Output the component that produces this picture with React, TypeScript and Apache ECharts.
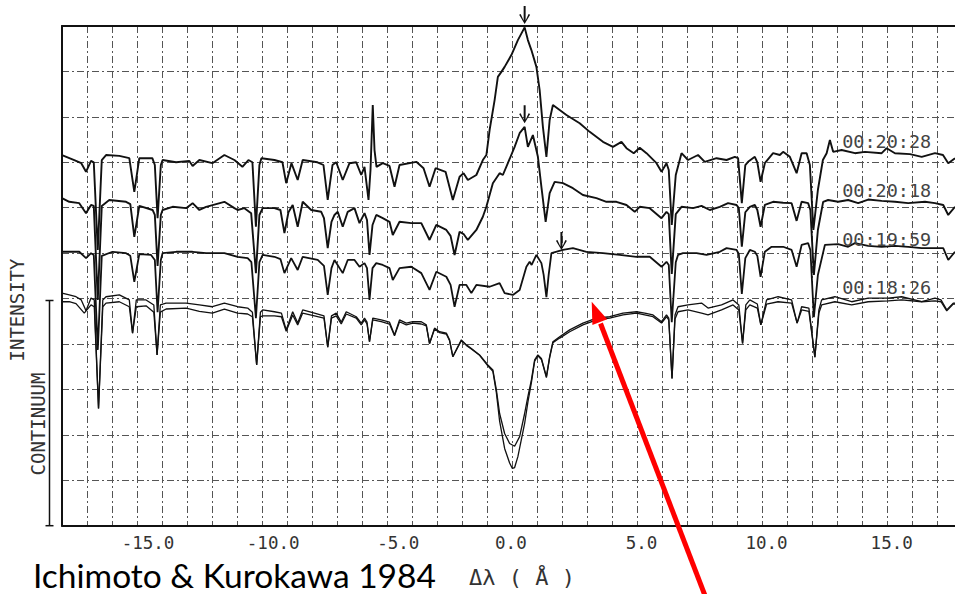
import React, { useEffect, useRef } from "react";
import * as echarts from "echarts";

// Δλ (Å) / intensity (grid units, continuum of the quiet spectrum ≈ 5)
const tickLabels = ["-15.0", "-10.0", "-5.0", "0.0", "5.0", "10.0", "15.0"];
const timeLabels = ["00:20:28", "00:20:18", "00:19:59", "00:18:26"];
const timeLabelPos: [number, number][] = [[14.96, 8.45], [14.96, 7.37], [14.96, 6.31], [14.96, 5.24]];
const arrowPos: [number, number][] = [[0.49, 11.0], [0.49, 8.86], [1.96, 6.07]];

const spec2028: [number, number][] = [
  [-18.0, 8.16], [-17.51, 8.05], [-17.23, 7.98], [-17.04, 7.79], [-16.84, 8.03], [-16.73, 8.0], [-16.57, 6.07], [-16.41, 8.05],
  [-16.24, 8.16], [-15.71, 8.14], [-15.31, 8.09], [-15.11, 7.35], [-14.91, 8.09], [-14.39, 8.09], [-14.29, 7.94], [-14.18, 6.77],
  [-14.05, 7.94], [-13.98, 8.05], [-13.44, 8.0], [-12.91, 8.03], [-12.78, 7.92], [-12.51, 8.05], [-11.99, 7.98], [-11.51, 8.16],
  [-11.11, 8.05], [-10.79, 7.9], [-10.55, 8.05], [-10.39, 8.0], [-10.25, 6.58], [-10.11, 7.94], [-10.03, 8.09], [-9.51, 8.05],
  [-9.19, 8.0], [-9.04, 7.54], [-8.83, 7.98], [-8.58, 7.61], [-8.38, 8.05], [-7.79, 8.0], [-7.55, 7.94], [-7.38, 7.17],
  [-7.19, 7.94], [-7.04, 8.0], [-6.78, 7.61], [-6.51, 7.98], [-6.24, 8.0], [-6.04, 7.72], [-5.91, 7.9], [-5.75, 7.17],
  [-5.67, 7.83], [-5.58, 9.26], [-5.51, 8.27], [-5.43, 7.9], [-5.18, 7.98], [-4.91, 7.92], [-4.71, 7.46], [-4.51, 7.94],
  [-3.84, 8.01], [-3.55, 7.87], [-3.31, 7.46], [-3.07, 7.87], [-2.67, 7.79], [-2.38, 7.17], [-2.11, 7.68], [-1.95, 7.76],
  [-1.78, 7.61], [-1.44, 7.72], [-1.18, 8.05], [-1.04, 8.16], [-0.91, 8.71], [-0.71, 9.37], [-0.58, 9.88], [-0.44, 9.99],
  [-0.31, 10.1], [-0.04, 10.36], [0.22, 10.69], [0.49, 10.97], [0.62, 10.69], [0.76, 10.47], [0.96, 10.1], [1.09, 9.59],
  [1.22, 8.78], [1.36, 8.12], [1.49, 8.93], [1.62, 9.26], [1.89, 9.15], [2.16, 9.04], [2.69, 8.86], [3.09, 8.67],
  [3.62, 8.45], [4.02, 8.34], [4.36, 8.45], [4.56, 8.31], [4.85, 8.2], [5.09, 8.32], [5.36, 8.2], [5.76, 7.98],
  [5.96, 7.79], [6.16, 7.98], [6.25, 7.83], [6.37, 6.62], [6.53, 7.72], [6.76, 8.2], [7.02, 8.05], [7.42, 8.16],
  [7.69, 8.01], [8.16, 8.09], [8.56, 8.05], [8.89, 8.12], [9.02, 8.09], [9.17, 7.1], [9.31, 7.94], [9.42, 8.01],
  [9.69, 8.12], [9.79, 8.0], [9.92, 7.57], [10.09, 7.98], [10.42, 8.2], [10.69, 8.16], [10.82, 8.23], [11.09, 8.12],
  [11.36, 7.76], [11.56, 8.2], [11.76, 8.2], [11.89, 7.94], [12.03, 6.51], [12.21, 7.39], [12.41, 8.05], [12.56, 8.2],
  [12.69, 8.49], [12.82, 8.23], [13.16, 8.27], [13.69, 8.2], [14.09, 8.23], [14.76, 8.2], [14.96, 8.31], [15.29, 8.2],
  [15.89, 8.18], [16.36, 8.12], [16.89, 8.2], [17.21, 8.16], [17.42, 7.98], [17.69, 8.09],
];

const spec2018: [number, number][] = [
  [-18.0, 7.21], [-17.71, 7.13], [-17.31, 7.1], [-17.04, 6.88], [-16.84, 7.06], [-16.73, 7.04], [-16.57, 4.97], [-16.41, 7.04],
  [-16.11, 7.17], [-15.44, 7.13], [-15.27, 7.08], [-15.11, 6.36], [-14.91, 7.04], [-14.38, 6.95], [-14.29, 6.84], [-14.18, 5.72],
  [-14.05, 6.84], [-13.98, 6.95], [-13.58, 7.02], [-13.04, 6.99], [-12.78, 7.1], [-12.51, 6.95], [-12.24, 7.02], [-11.51, 7.13],
  [-11.11, 6.99], [-10.98, 6.95], [-10.71, 6.99], [-10.44, 6.88], [-10.25, 5.56], [-10.11, 6.84], [-9.98, 6.99], [-9.51, 6.99],
  [-9.27, 6.95], [-9.11, 6.44], [-8.95, 6.9], [-8.78, 7.06], [-8.58, 6.58], [-8.38, 7.13], [-8.04, 6.95], [-7.64, 6.91],
  [-7.53, 6.77], [-7.38, 6.11], [-7.23, 6.69], [-7.11, 6.84], [-6.98, 6.91], [-6.78, 6.58], [-6.58, 6.91], [-6.31, 6.99],
  [-6.11, 6.66], [-5.91, 6.88], [-5.81, 6.73], [-5.71, 5.96], [-5.59, 6.62], [-5.44, 6.84], [-5.18, 6.77], [-4.91, 6.69],
  [-4.78, 6.4], [-4.51, 6.69], [-4.04, 6.66], [-3.64, 6.66], [-3.31, 6.29], [-3.04, 6.62], [-2.64, 6.51], [-2.47, 6.38],
  [-2.31, 5.96], [-2.11, 6.47], [-1.95, 6.42], [-1.78, 6.29], [-1.44, 6.51], [-1.18, 6.8], [-1.04, 7.02], [-0.78, 7.54],
  [-0.51, 7.76], [-0.38, 7.72], [-0.18, 7.98], [0.09, 8.34], [0.29, 8.64], [0.49, 8.78], [0.62, 8.34], [0.82, 8.6],
  [1.02, 8.12], [1.16, 7.46], [1.33, 6.69], [1.49, 7.32], [1.69, 7.57], [2.02, 7.54], [2.42, 7.43], [2.82, 7.28],
  [3.36, 7.21], [3.76, 7.13], [4.16, 7.13], [4.56, 7.06], [4.89, 6.91], [5.09, 7.02], [5.49, 6.99], [5.96, 6.77],
  [6.16, 6.91], [6.25, 6.86], [6.37, 5.54], [6.53, 6.86], [6.76, 7.02], [7.22, 6.99], [7.56, 7.04], [7.89, 6.95],
  [8.29, 7.02], [8.62, 7.1], [8.96, 7.06], [9.05, 6.99], [9.17, 6.14], [9.31, 6.9], [9.49, 7.02], [9.69, 7.06],
  [9.79, 6.95], [9.92, 6.58], [10.09, 7.06], [10.42, 7.13], [10.82, 7.11], [11.16, 7.1], [11.36, 6.71], [11.56, 7.13],
  [11.82, 7.1], [11.91, 6.95], [12.05, 5.52], [12.21, 6.51], [12.42, 7.13], [12.62, 7.17], [13.02, 7.13], [13.42, 7.17],
  [13.82, 7.1], [14.22, 7.18], [14.76, 7.15], [15.29, 7.13], [15.82, 7.1], [16.49, 7.13], [16.89, 7.1], [17.22, 7.06],
  [17.42, 6.84], [17.69, 7.02],
];

const spec1959: [number, number][] = [
  [-18.0, 6.03], [-17.31, 6.03], [-17.04, 5.89], [-16.84, 6.0], [-16.73, 5.96], [-16.57, 3.87], [-16.41, 5.94], [-15.98, 6.03],
  [-15.44, 6.0], [-15.27, 5.94], [-15.11, 5.37], [-14.91, 5.98], [-14.44, 5.96], [-14.29, 5.85], [-14.18, 4.7], [-14.05, 5.85],
  [-13.98, 6.0], [-13.44, 6.03], [-12.78, 6.03], [-12.24, 6.0], [-11.51, 6.0], [-10.98, 5.92], [-10.58, 5.89], [-10.43, 5.8],
  [-10.25, 4.57], [-10.11, 5.8], [-9.98, 5.96], [-9.51, 5.92], [-9.27, 5.87], [-9.11, 5.56], [-8.84, 5.89], [-8.58, 5.63],
  [-8.38, 5.92], [-7.78, 5.85], [-7.53, 5.72], [-7.38, 5.08], [-7.23, 5.67], [-7.11, 5.85], [-6.78, 5.56], [-6.58, 5.85],
  [-6.31, 5.85], [-6.11, 5.7], [-5.91, 5.78], [-5.81, 5.67], [-5.71, 4.97], [-5.59, 5.67], [-5.44, 5.78], [-5.18, 5.74],
  [-4.91, 5.67], [-4.78, 5.41], [-4.51, 5.67], [-4.04, 5.7], [-3.64, 5.56], [-3.31, 5.19], [-3.04, 5.59], [-2.64, 5.48],
  [-2.47, 5.3], [-2.31, 4.82], [-2.11, 5.3], [-1.84, 5.3], [-1.64, 5.12], [-1.44, 5.3], [-0.91, 5.26], [-0.51, 5.34],
  [-0.31, 5.12], [0.02, 5.08], [0.29, 5.19], [0.56, 5.7], [0.69, 5.81], [0.77, 5.74], [0.96, 5.96], [1.16, 5.78],
  [1.25, 5.52], [1.36, 5.03], [1.45, 5.52], [1.56, 6.0], [2.02, 6.07], [2.42, 6.11], [2.96, 6.03], [3.62, 6.0],
  [4.29, 5.96], [4.96, 5.92], [5.49, 5.92], [5.96, 5.7], [6.16, 5.81], [6.25, 5.74], [6.37, 4.48], [6.53, 5.8],
  [6.62, 5.96], [6.82, 6.0], [7.36, 6.0], [7.76, 5.96], [8.29, 6.03], [8.56, 6.11], [8.96, 6.07], [9.05, 5.98],
  [9.17, 5.1], [9.31, 5.89], [9.49, 6.07], [9.69, 6.03], [9.79, 5.94], [9.92, 5.48], [10.09, 6.03], [10.36, 6.14],
  [10.82, 6.14], [11.16, 6.07], [11.36, 5.7], [11.56, 6.18], [11.82, 6.22], [11.91, 6.07], [12.05, 4.59], [12.21, 5.52],
  [12.49, 6.18], [13.02, 6.2], [13.42, 6.14], [13.69, 6.22], [14.22, 6.16], [14.76, 6.14], [15.29, 6.16], [15.82, 6.14],
  [16.36, 6.11], [16.89, 6.11], [17.22, 6.11], [17.42, 5.85], [17.69, 6.03],
];

const spec1826a: [number, number][] = [
  [-18.0, 5.12], [-17.71, 5.08], [-17.44, 5.04], [-17.23, 4.97], [-17.04, 4.73], [-16.84, 5.01], [-16.71, 4.97], [-16.54, 2.58],
  [-16.37, 4.97], [-16.24, 5.04], [-15.71, 5.08], [-15.31, 4.97], [-15.18, 4.24], [-15.03, 4.97], [-14.64, 4.97], [-14.33, 4.86],
  [-14.2, 3.76], [-14.07, 4.86], [-13.84, 4.9], [-13.04, 4.9], [-12.51, 4.86], [-11.99, 4.82], [-11.51, 4.9], [-10.98, 4.82],
  [-10.58, 4.79], [-10.39, 4.7], [-10.22, 3.54], [-10.07, 4.7], [-9.98, 4.75], [-9.51, 4.71], [-9.23, 4.68], [-9.04, 4.31],
  [-8.78, 4.71], [-8.58, 4.46], [-8.38, 4.75], [-7.91, 4.68], [-7.53, 4.62], [-7.38, 3.93], [-7.23, 4.62], [-7.04, 4.68],
  [-6.84, 4.48], [-6.64, 4.71], [-6.24, 4.6], [-6.04, 4.46], [-5.91, 4.57], [-5.81, 4.48], [-5.71, 4.05], [-5.58, 4.57],
  [-5.24, 4.53], [-4.91, 4.48], [-4.71, 4.2], [-4.51, 4.53], [-4.24, 4.46], [-3.98, 4.49], [-3.64, 4.49], [-3.44, 4.42],
  [-3.31, 4.01], [-3.11, 4.35], [-2.91, 4.27], [-2.64, 4.24], [-2.51, 4.09], [-2.38, 3.72], [-2.18, 3.94], [-2.04, 4.09],
  [-1.84, 3.98], [-1.64, 3.9], [-1.31, 3.76], [-0.98, 3.54], [-0.78, 3.43], [-0.64, 2.99], [-0.51, 2.47], [-0.31, 2.03],
  [-0.11, 1.81], [0.09, 1.75], [0.29, 1.96], [0.49, 2.47], [0.62, 2.84], [0.76, 3.21], [0.89, 3.65], [1.02, 3.76],
  [1.16, 3.68], [1.36, 3.28], [1.49, 3.72], [1.62, 4.05], [1.89, 4.16], [2.29, 4.31], [2.82, 4.46], [3.36, 4.57],
  [3.89, 4.6], [4.42, 4.68], [4.96, 4.71], [5.29, 4.68], [5.62, 4.64], [5.96, 4.49], [6.16, 4.64], [6.25, 4.57],
  [6.38, 3.24], [6.5, 4.64], [6.62, 4.82], [7.02, 4.86], [7.56, 4.9], [7.82, 4.79], [8.36, 4.86], [8.82, 4.97],
  [9.05, 4.86], [9.2, 4.01], [9.33, 4.86], [9.49, 4.97], [9.79, 4.88], [9.93, 4.42], [10.16, 4.97], [10.62, 5.04],
  [11.16, 4.97], [11.38, 4.46], [11.56, 4.82], [11.85, 4.79], [12.09, 3.71], [12.25, 4.75], [12.36, 4.97], [12.89, 5.04],
  [13.56, 4.93], [14.22, 5.01], [15.02, 5.01], [15.56, 5.04], [16.36, 4.93], [16.89, 5.01], [17.13, 4.97], [17.36, 4.75],
  [17.62, 4.9], [17.69, 4.9],
];

const spec1826b: [number, number][] = [
  [-18.0, 4.93], [-17.71, 4.93], [-17.44, 4.89], [-17.11, 4.68], [-16.84, 4.86], [-16.71, 4.82], [-16.54, 2.58], [-16.37, 4.82],
  [-16.24, 4.9], [-15.71, 4.93], [-15.31, 4.82], [-15.18, 4.24], [-15.03, 4.82], [-14.64, 4.84], [-14.33, 4.7], [-14.2, 3.76],
  [-14.07, 4.7], [-13.84, 4.77], [-13.04, 4.79], [-12.51, 4.72], [-11.99, 4.68], [-11.51, 4.77], [-10.98, 4.68], [-10.58, 4.66],
  [-10.39, 4.6], [-10.22, 3.54], [-10.07, 4.6], [-9.98, 4.62], [-9.51, 4.62], [-9.23, 4.6], [-9.04, 4.28], [-8.78, 4.64],
  [-8.58, 4.42], [-8.38, 4.68], [-7.91, 4.62], [-7.53, 4.57], [-7.38, 3.93], [-7.23, 4.57], [-7.04, 4.62], [-6.84, 4.44],
  [-6.64, 4.66], [-6.24, 4.57], [-6.04, 4.42], [-5.91, 4.53], [-5.81, 4.44], [-5.71, 4.05], [-5.58, 4.53], [-5.24, 4.49],
  [-4.91, 4.44], [-4.71, 4.18], [-4.51, 4.49], [-4.24, 4.42], [-3.98, 4.46], [-3.64, 4.44], [-3.44, 4.4], [-3.31, 4.01],
  [-3.11, 4.33], [-2.91, 4.25], [-2.64, 4.22], [-2.51, 4.07], [-2.38, 3.72], [-2.18, 3.93], [-2.04, 4.07], [-1.84, 3.97],
  [-1.64, 3.89], [-1.31, 3.75], [-0.98, 3.52], [-0.78, 3.4], [-0.64, 2.93], [-0.51, 2.3], [-0.31, 1.7], [-0.11, 1.38],
  [0.0, 1.26], [0.09, 1.28], [0.22, 1.52], [0.49, 2.25], [0.62, 2.72], [0.76, 3.15], [0.89, 3.62], [1.02, 3.74],
  [1.16, 3.66], [1.36, 3.26], [1.49, 3.7], [1.62, 4.03], [1.89, 4.13], [2.29, 4.27], [2.82, 4.42], [3.36, 4.53],
  [3.89, 4.57], [4.42, 4.64], [4.96, 4.68], [5.29, 4.64], [5.62, 4.6], [5.96, 4.46], [6.16, 4.6], [6.25, 4.53],
  [6.38, 3.24], [6.5, 4.55], [6.62, 4.71], [7.02, 4.75], [7.56, 4.68], [7.82, 4.64], [8.36, 4.75], [8.82, 4.86],
  [9.05, 4.75], [9.2, 4.01], [9.33, 4.75], [9.49, 4.86], [9.79, 4.79], [9.93, 4.42], [10.16, 4.88], [10.62, 4.93],
  [11.16, 4.9], [11.38, 4.46], [11.56, 4.75], [11.85, 4.72], [12.09, 3.71], [12.25, 4.68], [12.36, 4.86], [12.89, 4.93],
  [13.56, 4.86], [14.22, 4.93], [15.02, 4.95], [15.56, 4.97], [16.36, 4.93], [16.89, 4.95], [17.13, 4.93], [17.36, 4.73],
  [17.62, 4.88], [17.69, 4.88],
];

const MONO = "'DejaVu Sans Mono', 'Liberation Mono', monospace";
const INK = "#111";
const ARROW = "path://M4.1,0 L5.9,0 L5.9,13.8 L8.6,7.6 L10,8.2 L5,17 L0,8.2 L1.4,7.6 L4.1,13.8 Z";

export default function App() {
  const ref = useRef<HTMLDivElement>(null);
  useEffect(() => {
    if (!ref.current) return;
    const chart = echarts.init(ref.current, undefined, { renderer: "svg" });
    const labelFont = { fontFamily: MONO, fontSize: 17.5, color: "#333" };
    const split = { show: true, lineStyle: { color: "#555", width: 1, type: [7, 3, 2, 3] as number[] } };
    const timeMark = (i: number) => ({
      coord: timeLabelPos[i],
      symbol: "circle",
      symbolSize: 1,
      itemStyle: { color: "rgba(0,0,0,0)" },
      label: { show: true, position: "inside", formatter: timeLabels[i], fontFamily: MONO, fontSize: 18.5, color: "#444" },
    });
    const arrowMark = (i: number, dy: number) => ({
      coord: arrowPos[i],
      symbol: ARROW,
      symbolSize: [11, 18],
      symbolOffset: [0, dy],
      itemStyle: { color: INK },
      label: { show: false },
    });
    const mkSeries = (data: [number, number][], width: number, marks: any[]) => ({
      type: "line",
      data,
      showSymbol: false,
      symbol: "none",
      lineStyle: { color: INK, width },
      emphasis: { disabled: true },
      markPoint: marks.length ? { silent: true, data: marks } : undefined,
    });
    chart.setOption({
      animation: false,
      backgroundColor: "#fff",
      grid: { left: 62, top: 26, right: 0, bottom: 68.3 },
      xAxis: [
        {
          type: "value",
          min: -18,
          max: 17.69,
          interval: 1,
          axisLine: { show: true, onZero: false, lineStyle: { color: INK, width: 2 } },
          axisTick: { show: false },
          splitLine: split,
          axisLabel: {
            margin: 8,
            showMinLabel: false,
            showMaxLabel: false,
            ...labelFont,
            formatter: (v: number) => {
              const s = tickLabels.find((t) => Math.abs(parseFloat(t) - v) < 1e-6);
              if (!s) return "";
              return v < 0 ? `{n|${s}}` : v > 0 ? `{p|${s}}` : `{z|${s}}`;
            },
            rich: {
              n: { ...labelFont, padding: [0, 0, 0, 22] },
              p: { ...labelFont, padding: [0, 0, 0, 8] },
              z: { ...labelFont, padding: [0, 3, 0, 0] },
            },
          },
        },
        {
          type: "value",
          position: "top",
          min: -18,
          max: 17.69,
          axisLine: { show: true, onZero: false, lineStyle: { color: INK, width: 2 } },
          axisTick: { show: false },
          axisLabel: { show: false },
          splitLine: { show: false },
        },
      ],
      yAxis: {
        type: "value",
        min: 0,
        max: 11,
        interval: 1,
        axisLine: { show: true, onZero: false, lineStyle: { color: INK, width: 2 } },
        axisTick: { show: false },
        axisLabel: { show: false },
        splitLine: split,
      },
      series: [
        mkSeries(spec2028, 1.9, [arrowMark(0, -11), timeMark(0)]),
        mkSeries(spec2018, 1.9, [arrowMark(1, -9), timeMark(1)]),
        mkSeries(spec1959, 1.8, [arrowMark(2, -9), timeMark(2)]),
        mkSeries(spec1826a, 1.3, [timeMark(3)]),
        mkSeries(spec1826b, 1.3, []),
      ],
      graphic: [
        { type: "text", x: 16.5, y: 310, rotation: Math.PI / 2, style: { text: "INTENSITY", font: `19px ${MONO}`, fill: "#333", align: "center", verticalAlign: "middle" } },
        { type: "text", x: 37.5, y: 424, rotation: Math.PI / 2, style: { text: "CONTINUUM", font: `19px ${MONO}`, fill: "#333", align: "center", verticalAlign: "middle" } },
        { type: "line", shape: { x1: 49.5, y1: 300.5, x2: 49.5, y2: 525.7 }, style: { stroke: INK, lineWidth: 1.5 } },
        { type: "line", shape: { x1: 45.5, y1: 300.5, x2: 53.5, y2: 300.5 }, style: { stroke: INK, lineWidth: 1.5 } },
        { type: "line", shape: { x1: 45.5, y1: 525.7, x2: 53.5, y2: 525.7 }, style: { stroke: INK, lineWidth: 1.5 } },
        { type: "text", x: 522, y: 577, style: { text: "Δλ ( Å )", font: `22px ${MONO}`, fill: "#333", align: "center", verticalAlign: "middle" } },
        { type: "text", x: 33, y: 575, style: { text: "Ichimoto & Kurokawa 1984", font: "33.5px Lato, 'Open Sans', sans-serif", fill: "#000", align: "left", verticalAlign: "middle" } },
        { type: "line", z: 100, shape: { x1: 706.7, y1: 600, x2: 600.5, y2: 323.5 }, style: { stroke: "#f00", lineWidth: 5 } },
        { type: "polygon", z: 100, shape: { points: [[591.7, 301.7], [607.2, 319.3], [592.4, 325.1]] }, style: { fill: "#f00" } },
      ],
    });
    return () => chart.dispose();
  }, []);
  return <div ref={ref} style={{ position: "fixed", left: 0, top: 0, width: 955, height: 594, background: "#fff" }} />;
}
